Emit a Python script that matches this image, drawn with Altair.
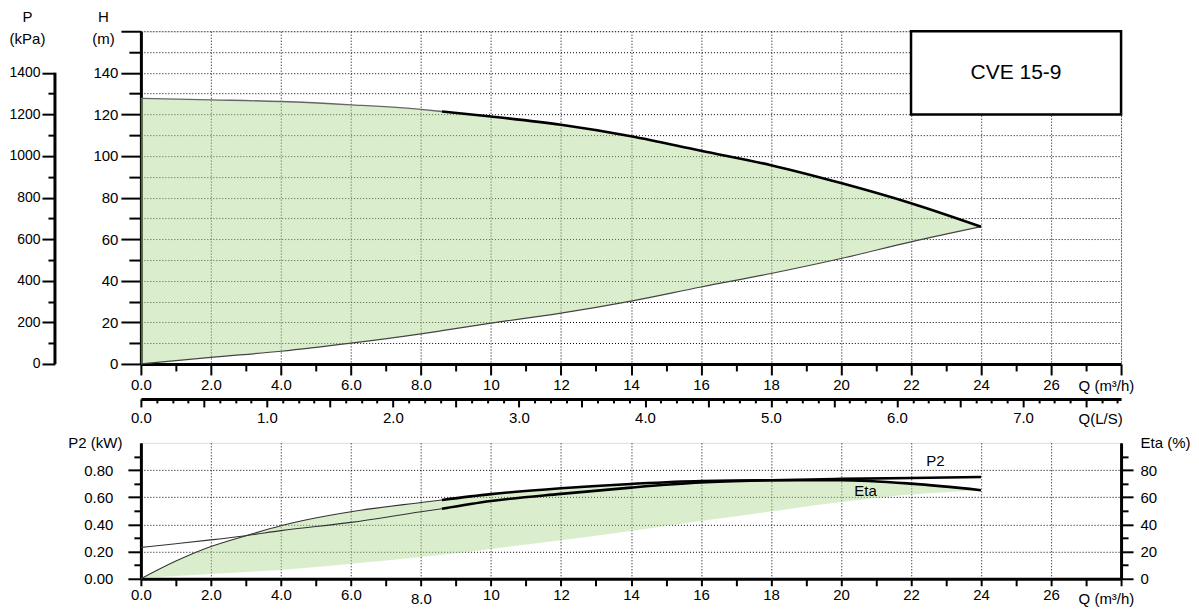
import altair as alt
import pandas as pd

# ---------------- data ----------------
# Upper panel: head curves, Q in m3/h, H in m
q_top = [0, 2, 4, 6, 8, 8.6, 10, 12, 14, 16, 18, 20, 22, 24]
h_max = [127.7, 127.0, 126.2, 124.6, 122.4, 121.4, 119.0, 115.0, 109.5, 102.5, 95.6, 87.0, 77.3, 66.0]
h_min = [0.0, 3.2, 6.1, 10.0, 14.5, 16.0, 19.6, 24.4, 30.2, 37.0, 43.5, 50.7, 58.7, 66.0]
q_split = 8.6  # thin line before, thick line after

# Lower panel: power and efficiency
q_bot = [0, 1, 2, 3, 4, 6, 8, 8.6, 10, 12, 14, 16, 18, 20, 22, 24]
p2_kw = [0.231, 0.258, 0.286, 0.317, 0.354, 0.415, 0.493, 0.515, 0.572, 0.625, 0.671, 0.708, 0.725, 0.735, 0.742, 0.749]
eta_pct = [0.0, 13.0, 23.7, 31.7, 39.0, 49.3, 56.1, 58.0, 62.3, 66.6, 69.8, 72.0, 72.5, 72.5, 70.0, 65.2]
eta_min = [0.7, 2.0, 3.5, 5.0, 6.5, 11.0, 16.0, 17.6, 22.0, 28.3, 35.2, 42.5, 49.5, 56.5, 62.0, 65.2]

# Annotations
model_label = "CVE 15-9"
box_q = [22, 28]
box_h = [120, 160]
model_pos = [25, 140]
p2_label_pos = [22.7, 0.867]
eta_label_pos = [20.7, 64.7]
p_axis_span = [0, 1400]

# Axis tick values
q_ticks = list(range(0, 29))
h_ticks = list(range(0, 161, 10))
p_ticks = list(range(0, 1401, 100))
ls_ticks = [i * 0.125 for i in range(0, 63)]
p2_ticks = [round(i * 0.1, 1) for i in range(0, 10)]
eta_ticks = list(range(0, 91, 10))

FONT = "Liberation Sans"
FS = 15


def cond(test, a, b):
    return {"condition": {"test": test, "value": a}, "value": b}


common = dict(
    domainColor="black", domainWidth=3, tickColor="black", tickWidth=2,
    labelFont=FONT, labelColor="black", labelFlush=False, labelOverlap=False,
    titleFont=FONT, titleColor="black", titleFontWeight="normal", titleFontSize=FS,
    gridColor="black", gridDash=[1, 2], gridWidth=1,
)

q_label_expr = ("datum.value % 2 === 0 && datum.value <= 26 ? "
                "(datum.value < 10 ? format(datum.value, '.1f') : format(datum.value, 'd')) : ''")

x_top_axis = alt.Axis(
    values=q_ticks, labelExpr=q_label_expr, labelFontSize=FS,
    tickSize=cond("datum.value % 2 === 0", 11, 7), labelPadding=3,
    grid=True, gridOpacity=cond("datum.value % 2 === 0", 1, 0),
    title="Q (m³/h)", titleX=938, titleY=22, titleAlign="left", titleBaseline="middle",
    **common)

y_h_axis = alt.Axis(
    values=h_ticks, labelFontSize=FS,
    labelExpr="datum.value % 20 === 0 && datum.value <= 140 ? format(datum.value, 'd') : ''",
    tickSize=cond("datum.value % 20 === 0", 20, 12), labelPadding=3,
    grid=True,
    title=["H", "(m)"], titleAngle=0, titleX=-38, titleY=-22, titleAlign="center",
    titleBaseline="top", titleLineHeight=22,
    **common)

p_axis = alt.Axis(
    orient="left", offset=86, values=p_ticks, domain=False, labelFontSize=14,
    labelExpr="datum.value % 200 === 0 ? format(datum.value, 'd') : ''",
    tickSize=cond("datum.value % 200 === 0", 13, 7), labelPadding=2, grid=False,
    title=["P", "(kPa)"], titleAngle=0, titleX=-28, titleY=-22, titleAlign="center",
    titleBaseline="top", titleLineHeight=22,
    **common)

ls_axis = alt.Axis(
    orient="bottom", offset=35, values=ls_ticks, labelFontSize=FS,
    labelExpr="datum.value % 1 === 0 ? format(datum.value, '.1f') : ''",
    tickSize=cond("datum.value % 0.5 === 0", 8, 4), labelPadding=4, grid=False,
    title="Q(L/S)", titleX=938, titleY=20, titleAlign="left", titleBaseline="middle",
    **common)

x_bot_axis = alt.Axis(
    values=q_ticks, labelExpr=q_label_expr, labelFontSize=FS,
    tickSize=7, labelPadding=cond("datum.value === 8", 6, 2),
    grid=True, gridOpacity=cond("datum.value % 2 === 0", 1, 0),
    title="Q (m³/h)", titleX=938, titleY=20, titleAlign="left", titleBaseline="middle",
    **common)

p2_axis = alt.Axis(
    orient="left", values=p2_ticks, labelFontSize=FS,
    labelExpr="round(datum.value * 10) % 2 === 0 ? format(datum.value, '.2f') : ''",
    tickSize=cond("round(datum.value * 10) % 2 === 0", 13, 7), labelPadding=15,
    grid=True, gridOpacity=cond("round(datum.value * 10) % 2 === 0 && datum.value > 0.05", 1, 0),
    title="P2 (kW)", titleAngle=0, titleX=-19, titleY=0, titleAlign="right",
    titleBaseline="middle",
    **common)

eta_axis = alt.Axis(
    orient="right", values=eta_ticks, labelFontSize=FS,
    labelExpr="datum.value % 20 === 0 ? format(datum.value, 'd') : ''",
    tickSize=cond("datum.value % 20 === 0", 12, 7), labelPadding=7, grid=False,
    title="Eta (%)", titleAngle=0, titleX=19, titleY=0, titleAlign="left",
    titleBaseline="middle",
    **common)

# ---------------- upper panel ----------------
top_df = pd.DataFrame({"q": q_top, "hmax": h_max, "hmin": h_min})
thin_df = top_df[top_df.q <= q_split]
thick_df = top_df[top_df.q >= q_split]

q_scale = alt.Scale(domain=[0, 28], nice=False, zero=False)
h_scale = alt.Scale(domain=[0, 160], nice=False)

XT = alt.X("q:Q", scale=q_scale, axis=x_top_axis)

area_top = alt.Chart(top_df).mark_area(color="#add990", opacity=0.45, interpolate="monotone").encode(
    x=XT, y=alt.Y("hmax:Q", scale=h_scale, axis=y_h_axis), y2="hmin:Q")
low_line = alt.Chart(top_df).mark_line(color="#444444", strokeWidth=1.2, interpolate="monotone").encode(
    x=XT, y=alt.Y("hmin:Q", scale=h_scale, axis=y_h_axis))
up_thin = alt.Chart(thin_df).mark_line(color="#666666", strokeWidth=1.3, interpolate="monotone").encode(
    x=XT, y=alt.Y("hmax:Q", scale=h_scale, axis=y_h_axis))
up_thick = alt.Chart(thick_df).mark_line(color="black", strokeWidth=2.6, interpolate="monotone").encode(
    x=XT, y=alt.Y("hmax:Q", scale=h_scale, axis=y_h_axis))

box_df = pd.DataFrame({"q0": [box_q[0]], "q1": [box_q[1]], "h0": [box_h[0]], "h1": [box_h[1]],
                       "qt": [model_pos[0]], "ht": [model_pos[1]], "label": [model_label]})
box = alt.Chart(box_df).mark_rect(fill="white", stroke="black", strokeWidth=2.5).encode(
    x=alt.X("q0:Q", scale=q_scale, axis=x_top_axis), x2="q1:Q",
    y=alt.Y("h0:Q", scale=h_scale, axis=y_h_axis), y2="h1:Q")
box_text = alt.Chart(box_df).mark_text(font=FONT, fontSize=21, color="black", align="center", baseline="middle").encode(
    x=alt.X("qt:Q", scale=q_scale, axis=x_top_axis),
    y=alt.Y("ht:Q", scale=h_scale, axis=y_h_axis), text="label:N")

main_top = alt.layer(area_top, low_line, up_thin, up_thick, box, box_text)

p_df = pd.DataFrame({"p0": [p_axis_span[0]], "p1": [p_axis_span[1]]})
p_layer = alt.Chart(p_df).mark_rule(color="black", strokeWidth=3).encode(
    y=alt.Y("p0:Q", scale=alt.Scale(domain=[0, 1600], nice=False), axis=p_axis),
    y2="p1:Q", x=alt.value(-86))

ls_df = pd.DataFrame({"ls": [0.0]})
ls_layer = alt.Chart(ls_df).mark_point(opacity=0).encode(
    x=alt.X("ls:Q", scale=alt.Scale(domain=[0, 28 / 3.6], nice=False, zero=False), axis=ls_axis),
    y=alt.value(0))

top = alt.layer(main_top, p_layer, ls_layer).resolve_scale(x="independent", y="independent").properties(
    width=981, height=333)

# ---------------- lower panel ----------------
bot_df = pd.DataFrame({"q": q_bot, "p2": p2_kw, "eta": eta_pct, "etamin": eta_min})
bthin = bot_df[bot_df.q <= q_split]
bthick = bot_df[bot_df.q >= q_split]

XB = alt.X("q:Q", scale=q_scale, axis=x_bot_axis)
eta_scale = alt.Scale(domain=[0, 100], nice=False)
p2_scale = alt.Scale(domain=[0, 1.0], nice=False)

eta_area = alt.Chart(bot_df).mark_area(color="#add990", opacity=0.45, interpolate="monotone").encode(
    x=XB, y=alt.Y("eta:Q", scale=eta_scale, axis=eta_axis), y2="etamin:Q")
eta_thin = alt.Chart(bthin).mark_line(color="#333333", strokeWidth=1.1, interpolate="monotone").encode(
    x=XB, y=alt.Y("eta:Q", scale=eta_scale, axis=eta_axis))
eta_thick = alt.Chart(bthick).mark_line(color="black", strokeWidth=2.6, interpolate="monotone").encode(
    x=XB, y=alt.Y("eta:Q", scale=eta_scale, axis=eta_axis))
eta_lbl_df = pd.DataFrame({"q": [eta_label_pos[0]], "v": [eta_label_pos[1]], "t": ["Eta"]})
eta_text = alt.Chart(eta_lbl_df).mark_text(font=FONT, fontSize=15, color="black").encode(
    x=XB, y=alt.Y("v:Q", scale=eta_scale, axis=eta_axis), text="t:N")

p2_thin = alt.Chart(bthin).mark_line(color="#333333", strokeWidth=1.1, interpolate="monotone").encode(
    x=XB, y=alt.Y("p2:Q", scale=p2_scale, axis=p2_axis))
p2_thick = alt.Chart(bthick).mark_line(color="black", strokeWidth=2.6, interpolate="monotone").encode(
    x=XB, y=alt.Y("p2:Q", scale=p2_scale, axis=p2_axis))
p2_lbl_df = pd.DataFrame({"q": [p2_label_pos[0]], "v": [p2_label_pos[1]], "t": ["P2"]})
p2_text = alt.Chart(p2_lbl_df).mark_text(font=FONT, fontSize=15, color="black").encode(
    x=XB, y=alt.Y("v:Q", scale=p2_scale, axis=p2_axis), text="t:N")

eta_group = alt.layer(eta_area, eta_thin, eta_thick, eta_text)
p2_group = alt.layer(p2_thin, p2_thick, p2_text)

bottom = alt.layer(eta_group, p2_group).resolve_scale(y="independent").properties(width=981, height=136)

chart = alt.vconcat(top, bottom, spacing=79).properties(
    bounds="flush", padding=0
).configure_view(stroke="black", strokeWidth=2.5).configure(background="white")

chart.save("out.html", embed_options={"renderer": "svg", "actions": False})
